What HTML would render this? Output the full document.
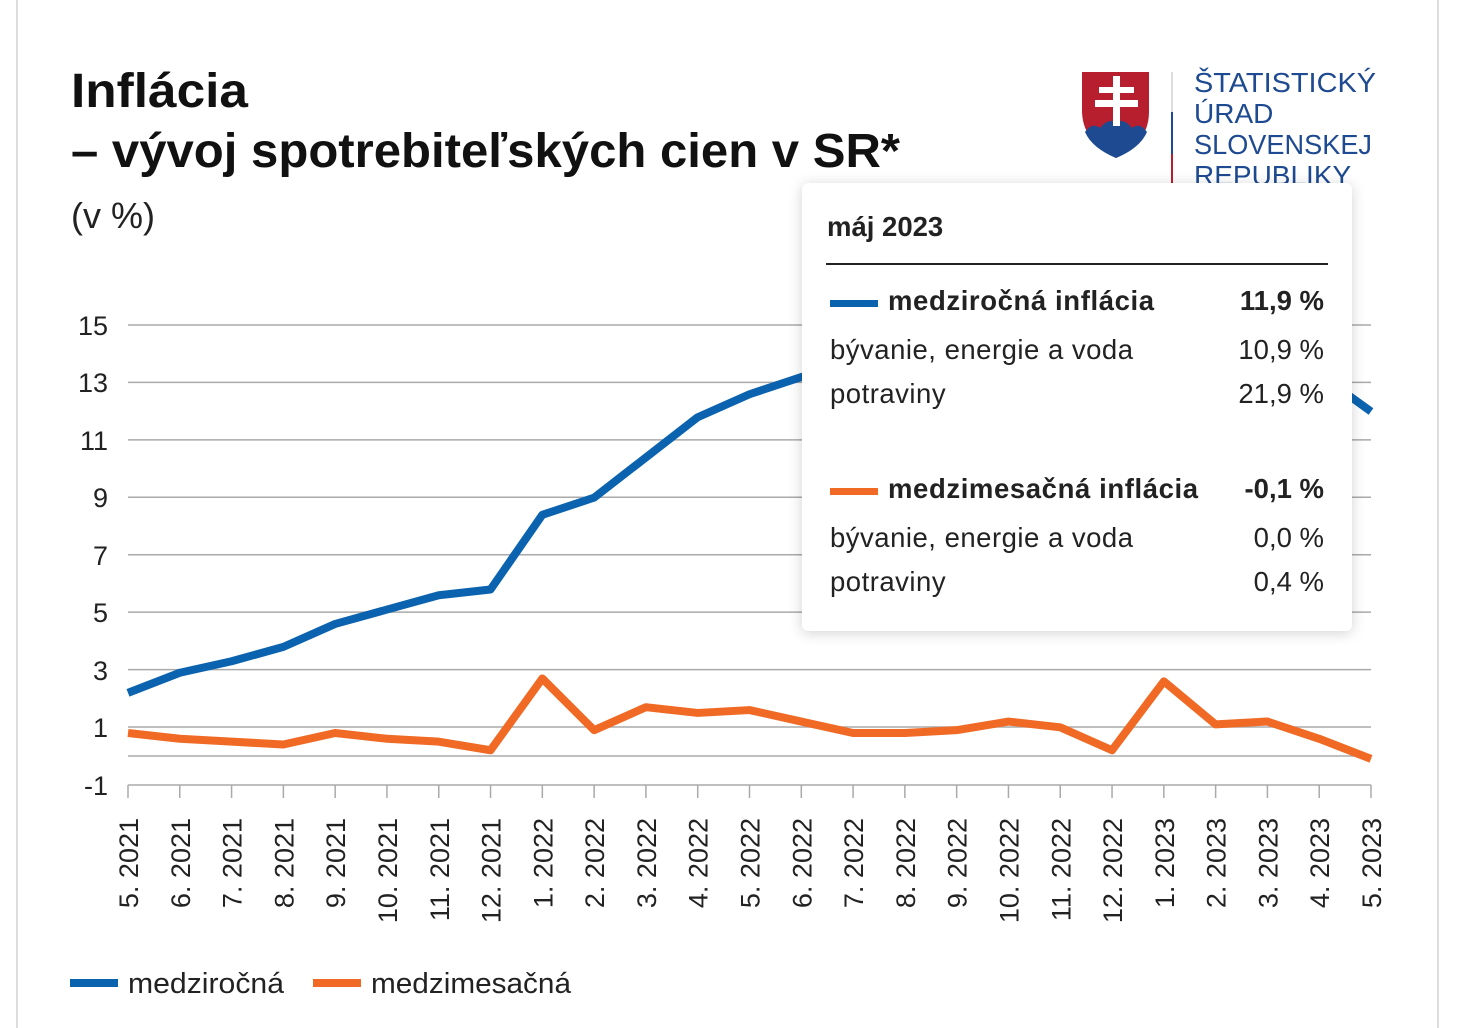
<!DOCTYPE html>
<html><head><meta charset="utf-8"><style>
body{margin:0;background:#fff;width:1464px;height:1019px;overflow:hidden;font-family:"Liberation Sans",sans-serif;}
.frame{position:absolute;left:16px;top:-2px;width:1419px;height:1030px;border-left:2px solid #ddd;border-right:2px solid #ddd;}
svg{position:absolute;left:0;top:0}
.tt{position:absolute;left:802px;top:183px;width:550px;height:448px;background:#fff;border-radius:6px;box-shadow:0 2px 14px rgba(0,0,0,.18);}
.tt div{position:absolute;font-size:27.5px;color:#222;white-space:nowrap}
</style></head><body>
<div class="frame"></div>
<svg width="1464" height="1019">
<g font-family="Liberation Sans, sans-serif" fill="#111">
<text x="71" y="107" font-size="48" font-weight="bold" textLength="177" lengthAdjust="spacingAndGlyphs">Inflácia</text>
<text x="71" y="167" font-size="48" font-weight="bold" textLength="829" lengthAdjust="spacingAndGlyphs">– vývoj spotrebiteľských cien v SR*</text>
<text x="71" y="228" font-size="36" fill="#222">(v %)</text>
</g>
<path d="M1082 72 H1149 V112 Q1149 142 1116 158 Q1083 142 1082 112 Z" fill="#b71f2e"/>
<path d="M1085 132 Q1092 122 1100 128 Q1108 118 1116 122 Q1124 118 1132 128 Q1140 122 1147 132 Q1140 148 1116 158 Q1092 148 1085 132Z" fill="#1e4a91"/>
<g fill="#fff"><rect x="1113" y="76" width="7" height="50"/><rect x="1099" y="87" width="35" height="6"/><rect x="1095" y="100" width="43" height="7"/></g>
<rect x="1171" y="72" width="2" height="40" fill="#ddd"/><rect x="1171" y="112" width="2" height="42" fill="#1e4a91"/><rect x="1171" y="154" width="2" height="30" fill="#b71f2e"/>
<g font-family="Liberation Sans, sans-serif" font-size="28" fill="#1e4a91">
<text x="1194" y="92" textLength="182" lengthAdjust="spacingAndGlyphs">ŠTATISTICKÝ</text><text x="1194" y="123">ÚRAD</text><text x="1194" y="154" textLength="178" lengthAdjust="spacingAndGlyphs">SLOVENSKEJ</text><text x="1194" y="185">REPUBLIKY</text></g>
<g stroke="#aaa" stroke-width="1.5">
<line x1="128" x2="1371" y1="325" y2="325"/><line x1="128" x2="1371" y1="382.4" y2="382.4"/><line x1="128" x2="1371" y1="439.9" y2="439.9"/><line x1="128" x2="1371" y1="497.3" y2="497.3"/><line x1="128" x2="1371" y1="554.7" y2="554.7"/><line x1="128" x2="1371" y1="612.1" y2="612.1"/><line x1="128" x2="1371" y1="669.6" y2="669.6"/><line x1="128" x2="1371" y1="727" y2="727"/><line x1="128" x2="1371" y1="756" y2="756"/><line x1="128" x2="1371" y1="785" y2="785"/>
</g>
<g id="ticks" stroke="#aaa" stroke-width="1.5"></g>
<g font-family="Liberation Sans, sans-serif" font-size="27" fill="#222" text-anchor="end">
<text x="108" y="335">15</text><text x="108" y="392">13</text><text x="108" y="450">11</text><text x="108" y="507">9</text><text x="108" y="565">7</text><text x="108" y="622">5</text><text x="108" y="680">3</text><text x="108" y="737">1</text><text x="108" y="795">-1</text></g>
<g id="xl" font-family="Liberation Sans, sans-serif" font-size="27" fill="#222" text-anchor="end"></g>
<polyline id="b" fill="none" stroke="#0b63b0" stroke-width="8" stroke-linejoin="round"/>
<polyline id="o" fill="none" stroke="#f06a25" stroke-width="8" stroke-linejoin="round"/>
<rect x="70" y="979" width="48" height="8" fill="#0b63b0"/>
<rect x="313" y="979" width="48" height="8" fill="#f06a25"/>
<g font-family="Liberation Sans, sans-serif" font-size="29" fill="#222"><text x="128" y="993" textLength="156" lengthAdjust="spacingAndGlyphs">medziročná</text><text x="371" y="993" textLength="200" lengthAdjust="spacingAndGlyphs">medzimesačná</text></g>
</svg>
<div class="tt">
<div style="left:25px;top:28px;font-weight:bold">máj 2023</div>
<div style="left:24px;top:80px;width:502px;height:2px;background:#222"></div>
<div style="left:28px;top:117px;width:48px;height:7px;background:#0b63b0"></div>
<div style="left:86px;top:102px;font-weight:bold;letter-spacing:0.6px">medziročná inflácia</div>
<div style="right:28px;top:102px;font-weight:bold">11,9 %</div>
<div style="left:28px;top:151px;letter-spacing:0.5px">bývanie, energie a voda</div><div style="right:28px;top:151px">10,9 %</div>
<div style="left:28px;top:195px;letter-spacing:0.5px">potraviny</div><div style="right:28px;top:195px">21,9 %</div>
<div style="left:28px;top:305px;width:48px;height:7px;background:#f06a25"></div>
<div style="left:86px;top:290px;font-weight:bold;letter-spacing:0.6px">medzimesačná inflácia</div>
<div style="right:28px;top:290px;font-weight:bold">-0,1 %</div>
<div style="left:28px;top:339px;letter-spacing:0.5px">bývanie, energie a voda</div><div style="right:28px;top:339px">0,0 %</div>
<div style="left:28px;top:383px;letter-spacing:0.5px">potraviny</div><div style="right:28px;top:383px">0,4 %</div>
</div>
<script>
var B=[2.2,2.9,3.3,3.8,4.6,5.1,5.6,5.8,8.4,9.0,10.4,11.8,12.6,13.2,13.6,14.0,14.3,14.8,15.1,15.2,15.1,15.3,14.7,13.3,12.0];
var O=[0.8,0.6,0.5,0.4,0.8,0.6,0.5,0.2,2.7,0.9,1.7,1.5,1.6,1.2,0.8,0.8,0.9,1.2,1.0,0.2,2.6,1.1,1.2,0.6,-0.1];
var L=["5. 2021","6. 2021","7. 2021","8. 2021","9. 2021","10. 2021","11. 2021","12. 2021","1. 2022","2. 2022","3. 2022","4. 2022","5. 2022","6. 2022","7. 2022","8. 2022","9. 2022","10. 2022","11. 2022","12. 2022","1. 2023","2. 2023","3. 2023","4. 2023","5. 2023"];
function X(i){return 128+i*1243/24}function Y(v){return 756-v*28.71}
document.getElementById('b').setAttribute('points',B.map((v,i)=>X(i)+','+Y(v)).join(' '));
document.getElementById('o').setAttribute('points',O.map((v,i)=>X(i)+','+Y(v)).join(' '));
var t='',l='';L.forEach((s,i)=>{var x=X(i);t+='<line x1="'+x+'" x2="'+x+'" y1="785" y2="798"/>';l+='<text transform="translate('+(x+10)+',818) rotate(-90)">'+s+'</text>';});
document.getElementById('ticks').innerHTML=t;document.getElementById('xl').innerHTML=l;
</script>
</body></html>
